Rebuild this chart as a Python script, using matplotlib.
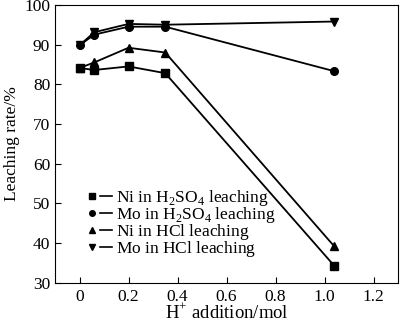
import matplotlib
matplotlib.use("Agg")
import matplotlib.pyplot as plt
from matplotlib.lines import Line2D
from matplotlib.legend_handler import HandlerTuple

plt.rcParams["font.family"] = ["Liberation Serif", "DejaVu Serif"]
plt.rcParams["mathtext.fontset"] = "custom"
plt.rcParams["mathtext.rm"] = "Liberation Serif"

# H+ addition (mol)
h_add = [0, 0.06, 0.2, 0.35, 1.04]

ni_h2so4 = [84.1, 83.6, 84.5, 82.8, 34.3]
mo_h2so4 = [89.8, 92.5, 94.5, 94.5, 83.3]
ni_hcl = [84.1, 85.5, 89.2, 88.0, 39.2]
mo_hcl = [89.8, 93.1, 95.2, 95.0, 95.8]

# the empty subscript keeps the legend rows evenly spaced
labels = [
    r"Ni in H$_2$SO$_4$ leaching",
    r"Mo in H$_2$SO$_4$ leaching",
    r"Ni in HCl leaching$_{\ }$",
    r"Mo in HCl leaching$_{\ }$",
]
series = [ni_h2so4, mo_h2so4, ni_hcl, mo_hcl]
markers = ["s", "o", "^", "v"]

fig = plt.figure(figsize=(4.0, 3.23), dpi=100)
ax = fig.add_axes([0.1375, 0.124, 0.8575, 0.861])

handles = []
for ys, m in zip(series, markers):
    ax.plot(h_add, ys, color="black", lw=1.3, marker=m, ms=5.5)
    dot = Line2D([], [], color="black", marker=m, ms=4, ls="none")
    dash = Line2D([], [], color="black", lw=1.2)
    handles.append((dot, dash))

ax.legend(handles, labels, handler_map={tuple: HandlerTuple(ndivide=None, pad=0.1)},
          loc="lower left", bbox_to_anchor=(0.09, 0.085), frameon=False,
          handlelength=1.5, handletextpad=0.25, labelspacing=-0.17,
          borderpad=0, borderaxespad=0, fontsize=12.5)

ax.set_xlim(-0.1, 1.3)
ax.set_ylim(30, 100)
ax.set_xticks([0, 0.2, 0.4, 0.6, 0.8, 1.0, 1.2])
ax.set_xticklabels(["0", "0.2", "0.4", "0.6", "0.8", "1.0", "1.2"])
ax.set_yticks(range(30, 101, 10))
ax.tick_params(direction="in", labelsize=12.5, length=4.5, top=False, right=False)
ax.tick_params(axis="x", pad=4)
ax.set_xlabel(r"H$^{+}$ addition/mol", fontsize=13.5, labelpad=-1)
ax.set_ylabel("Leaching rate/%", fontsize=12.5, labelpad=3)

fig.savefig("out.png", dpi=100)
